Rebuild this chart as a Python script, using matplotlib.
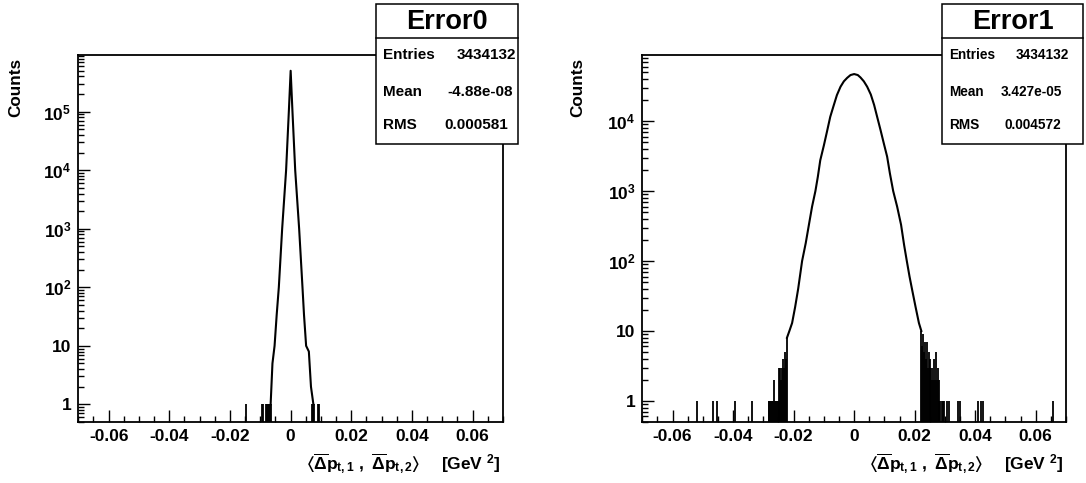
import math
import matplotlib
matplotlib.use("Agg")
import matplotlib.pyplot as plt
from matplotlib.ticker import MultipleLocator, FixedLocator, FuncFormatter, NullFormatter
from matplotlib.patches import Rectangle
from matplotlib.lines import Line2D

plt.rcParams["font.family"] = ["Liberation Sans", "DejaVu Sans"]
plt.rcParams["font.weight"] = "bold"
plt.rcParams["mathtext.fontset"] = "custom"
plt.rcParams["mathtext.rm"] = "Liberation Sans:bold"
plt.rcParams["mathtext.it"] = "Liberation Sans:bold"
plt.rcParams["mathtext.bf"] = "Liberation Sans:bold"
plt.rcParams["mathtext.sf"] = "Liberation Sans:bold"
plt.rcParams["mathtext.fallback"] = "stix"

W, H = 1086, 483

# Error0: smooth core of the histogram (bin centre, counts)
err0_x = [-0.0066, -0.0060, -0.0053, -0.0046, -0.0039, -0.0028, -0.0015, -0.0006, 0.0,
          0.0006, 0.0015, 0.0028, 0.0039, 0.0044, 0.0051, 0.0060, 0.0067, 0.0075]
err0_n = [1, 5, 10, 34, 100, 1000, 10000, 100000, 500000,
          100000, 10000, 1000, 100, 34, 10, 8, 2, 1]
# Error0: isolated low-count bins
err0_tail_x = [-0.0148, -0.0096, -0.0092, -0.0081, -0.0078, -0.0075, -0.0072, -0.0069, -0.0066,
               0.0070, 0.0075, 0.0078, 0.0089, 0.0093]
err0_tail_n = [1, 1, 1, 1, 1, 1, 1, 1, 1,
               1, 1, 1, 1, 1]

# Error1: smooth core of the histogram
err1_x = [-0.0222, -0.0214, -0.0205, -0.0195, -0.0185, -0.0172, -0.0160, -0.0150,
          -0.0139, -0.0128, -0.0120, -0.0112, -0.0100, -0.0090, -0.0079, -0.0068,
          -0.0057, -0.0045, -0.0034, -0.0023, -0.0012, 0.0,
          0.0012, 0.0021, 0.0032, 0.0043, 0.0055, 0.0066, 0.0076, 0.0087, 0.0098,
          0.0109, 0.0118, 0.0129, 0.0142, 0.0155, 0.0165, 0.0174, 0.0183, 0.0192,
          0.0203, 0.0214, 0.0222]
err1_n = [8, 10, 13, 22, 40, 100, 180, 320,
          600, 1000, 1600, 2750, 4500, 7000, 11500, 16500,
          23500, 31000, 37000, 41500, 45500, 47000,
          45500, 42000, 37000, 31000, 24000, 17000, 11500, 7500, 4800,
          3100, 1800, 1000, 600, 330, 170, 100, 60, 38,
          22, 13, 10]
# Error1: noisy tails
err1_tail_x = [-0.0520, -0.0467, -0.0452, -0.0395, -0.0338,
               -0.0283, -0.0280, -0.0277, -0.0274, -0.0271, -0.0268, -0.0264, -0.0261,
               -0.0258, -0.0255, -0.0252, -0.0249, -0.0247, -0.0244, -0.0241, -0.0238,
               -0.0235, -0.0232, -0.0229, -0.0226, -0.0222,
               0.0222, 0.0225, 0.0228, 0.0231, 0.0234, 0.0237, 0.0240, 0.0243, 0.0246,
               0.0249, 0.0252, 0.0255, 0.0258, 0.0261, 0.0264, 0.0267, 0.0270, 0.0273,
               0.0276, 0.0279, 0.0282, 0.0285, 0.0289, 0.0293, 0.0297,
               0.0308, 0.0313, 0.0343, 0.0350, 0.0409, 0.0418, 0.0427, 0.0658]
err1_tail_n = [1, 1, 1, 1, 1,
               1, 1, 1, 1, 1, 1, 2, 1,
               1, 1, 1, 1, 3, 3, 2, 3,
               4, 3, 5, 4, 8,
               10, 6, 9, 5, 7, 4, 7, 3, 5,
               3, 4, 2, 3, 2, 4, 2, 5, 2,
               3, 1, 2, 1, 1, 1, 1,
               1, 1, 1, 1, 1, 1, 1, 1]

stats = [
    ("Error0", ["Entries", "Mean", "RMS"], ["3434132", "-4.88e-08", "0.000581"]),
    ("Error1", ["Entries", "Mean", "RMS"], ["3434132", "3.427e-05", "0.004572"]),
]


def fx(x):
    return x / W


def fy(y):
    return 1 - y / H


def log_label(v, pos):
    e = round(math.log10(v))
    if e == 0:
        return "1"
    if e == 1:
        return "10"
    return r"$\mathbf{10^{%d}}$" % e


def x_label(v, pos):
    if abs(v) < 1e-9:
        return "0"
    return f"{v:.2f}"


def draw_hist(ax, cx, cn, tx, tn, ymax, top_decade):
    ax.set_yscale("log")
    ax.set_xlim(-0.07, 0.07)
    ax.set_ylim(0.5, ymax)
    ax.plot(cx, cn, color="black", lw=1.5)
    ax.vlines(tx, 0.5, tn, color="black", lw=1.3)
    ax.xaxis.set_major_locator(MultipleLocator(0.02))
    ax.xaxis.set_minor_locator(MultipleLocator(0.005))
    ax.xaxis.set_major_formatter(FuncFormatter(x_label))
    ax.yaxis.set_major_locator(FixedLocator([10 ** e for e in range(top_decade + 1)]))
    minors = [m * 10 ** e for e in range(-1, top_decade + 1) for m in range(2, 10)]
    ax.yaxis.set_minor_locator(FixedLocator([v for v in minors if 0.5 <= v <= ymax]))
    ax.yaxis.set_major_formatter(FuncFormatter(log_label))
    ax.yaxis.set_minor_formatter(NullFormatter())
    ax.tick_params(which="both", direction="in", top=False, right=False,
                   labelsize=12.5, width=1)
    ax.tick_params(which="major", length=8.6)
    ax.tick_params(which="minor", length=4.3)
    ax.tick_params(axis="y", pad=5)
    ax.tick_params(axis="x", pad=5)
    for s in ax.spines.values():
        s.set_linewidth(1.3)


fig = plt.figure(figsize=(W / 100, H / 100), dpi=100)
frames = [(78.3, 503.0), (642.3, 1066.0)]
boxes = [(376, 518), (942, 1083)]
val_right = [(515.7, 513.3, 508.3), (1069, 1062.5, 1061.5)]
row_size = [11, 9.8]
data = [(err0_x, err0_n, err0_tail_x, err0_tail_n, 9.3e5, 5),
        (err1_x, err1_n, err1_tail_x, err1_tail_n, 8.8e4, 4)]
counts_x = [15.6, 577.6]

for i in range(2):
    x0, x1 = frames[i]
    ax = fig.add_axes([fx(x0), fy(422), (x1 - x0) / W, (422 - 55) / H])
    draw_hist(ax, *data[i])

    fig.text(fx(counts_x[i]), fy(58), "Counts", rotation=90, ha="center", va="top",
             fontsize=12.3, weight="bold")
    fig.text(fx(x1 - 82.7), fy(469),
             r"$\langle\overline{\Delta}p_{t,1}\ ,\ \overline{\Delta}p_{t,2}\rangle$",
             ha="right", va="baseline", fontsize=12.5)
    fig.text(fx(x1 - 2.7), fy(469), r"[GeV $^{\mathbf{2}}$]", ha="right", va="baseline",
             fontsize=12.5, weight="bold")

    bx0, bx1 = boxes[i]
    fig.add_artist(Rectangle((fx(bx0), fy(144)), (bx1 - bx0) / W, 140 / H,
                             transform=fig.transFigure, facecolor="white",
                             edgecolor="black", lw=1.1, zorder=5))
    fig.add_artist(Line2D([fx(bx0), fx(bx1)], [fy(38), fy(38)],
                          transform=fig.transFigure, color="black", lw=1.1, zorder=6))
    title, labels, values = stats[i]
    fig.text(fx((bx0 + bx1) / 2), fy(29.3), title, ha="center", va="baseline",
             fontsize=19.5, weight="bold", zorder=7)
    for lab, val, yb, xr in zip(labels, values, (59.3, 95.7, 129.3), val_right[i]):
        fig.text(fx(bx0 + 7), fy(yb), lab, ha="left", va="baseline",
                 fontsize=row_size[i], weight="bold", zorder=7)
        fig.text(fx(xr), fy(yb), val, ha="right", va="baseline",
                 fontsize=row_size[i], weight="bold", zorder=7)

fig.savefig("out.png", dpi=100)
